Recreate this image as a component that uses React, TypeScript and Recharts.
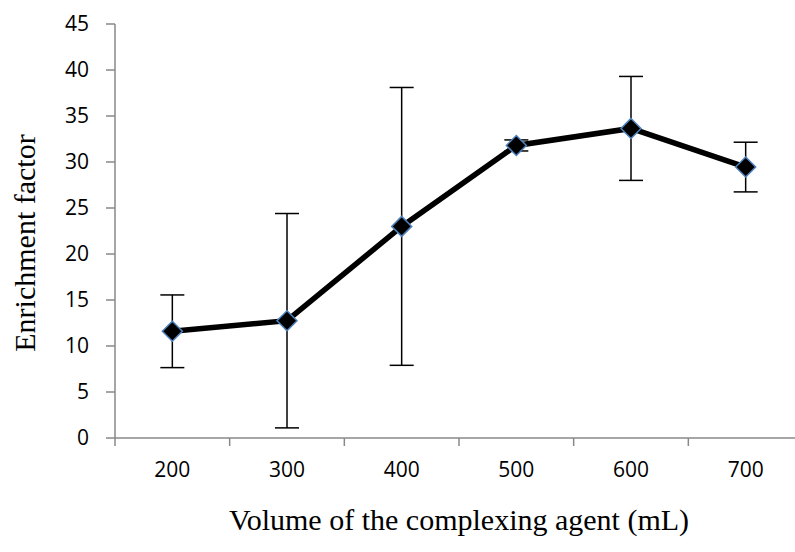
import React from "react";
import { LineChart, Line, XAxis, YAxis, ErrorBar } from "recharts";

// volume of complexing agent (mL)
const VOLUMES = [200, 300, 400, 500, 600, 700];
// enrichment factor means
const ENRICHMENT = [11.6, 12.75, 23.0, 31.8, 33.65, 29.45];
// standard deviations
const SD = [3.95, 11.65, 15.1, 0.6, 5.65, 2.7];
// category boundaries where Excel puts its tick marks
const BOUNDARIES = [150, 250, 350, 450, 550, 650, 750];
const Y_TICKS = [0, 5, 10, 15, 20, 25, 30, 35, 40, 45];

const data = VOLUMES.map((v, i) => ({
  volume: v,
  ef: ENRICHMENT[i],
  err: SD[i],
}));

const AXIS_COLOR = "#898989";
const TICK_FONT = "'Open Sans', 'Noto Sans', sans-serif";
const TITLE_FONT = "'Liberation Serif', 'DejaVu Serif', serif";

const Diamond = (props: any) => {
  const { cx, cy } = props;
  if (cx == null || cy == null) return null;
  const r = 10;
  return (
    <polygon
      points={`${cx},${cy - r} ${cx + r},${cy} ${cx},${cy + r} ${cx - r},${cy}`}
      fill="#000"
      stroke="#4F81BD"
      strokeWidth={1.5}
    />
  );
};

const XTick = (props: any) => {
  const { x, y, payload } = props;
  if (BOUNDARIES.includes(payload.value)) {
    return <line x1={x} x2={x} y1={y} y2={y + 8} stroke={AXIS_COLOR} strokeWidth={1.5} />;
  }
  return (
    <text
      x={x}
      y={y + 33}
      textAnchor="middle"
      dominantBaseline="middle"
      fontFamily={TICK_FONT}
      fontSize={21}
      fill="#000"
    >
      {payload.value}
    </text>
  );
};

export default function App() {
  return (
    <div
      style={{
        position: "absolute",
        left: 0,
        top: 0,
        width: 795,
        height: 552,
        overflow: "hidden",
        background: "#fff",
      }}
    >
      <LineChart
        width={810}
        height={552}
        data={data}
        margin={{ top: 24, right: 7, left: 0, bottom: 0 }}
      >
        <XAxis
          dataKey="volume"
          type="number"
          domain={[150, 750]}
          ticks={[...BOUNDARIES, ...VOLUMES].sort((a, b) => a - b)}
          interval={0}
          height={114}
          tickSize={0}
          tickMargin={0}
          tickLine={false}
          axisLine={{ stroke: AXIS_COLOR, strokeWidth: 1.5 }}
          tick={<XTick />}
          label={{
            content: (p: any) => {
              const vb = p.viewBox;
              return (
                <text
                  x={vb.x + vb.width / 2}
                  y={523}
                  textAnchor="middle"
                  dominantBaseline="middle"
                  fontFamily={TITLE_FONT}
                  fontSize={30}
                  fill="#000"
                >
                  Volume of the complexing agent (mL)
                </text>
              );
            },
          }}
        />
        <YAxis
          type="number"
          domain={[0, 45]}
          ticks={Y_TICKS}
          interval={0}
          width={115}
          tickSize={9}
          tickMargin={17}
          axisLine={{ stroke: AXIS_COLOR, strokeWidth: 1.5 }}
          tickLine={{ stroke: AXIS_COLOR, strokeWidth: 1.5 }}
          tick={{ fill: "#000", fontSize: 21, fontFamily: TICK_FONT }}
          label={{
            content: (p: any) => {
              const vb = p.viewBox;
              const cy = vb.y + vb.height / 2 + 12;
              return (
                <text
                  x={24}
                  y={cy}
                  transform={`rotate(-90, 24, ${cy})`}
                  textAnchor="middle"
                  dominantBaseline="central"
                  fontFamily={TITLE_FONT}
                  fontSize={30}
                  fill="#000"
                >
                  Enrichment factor
                </text>
              );
            },
          }}
        />
        <Line
          type="linear"
          dataKey="ef"
          stroke="#000"
          strokeWidth={5.5}
          dot={<Diamond />}
          activeDot={false}
          isAnimationActive={false}
        >
          <ErrorBar dataKey="err" width={12} stroke="#000" strokeWidth={1.5} direction="y" />
        </Line>
      </LineChart>
    </div>
  );
}
